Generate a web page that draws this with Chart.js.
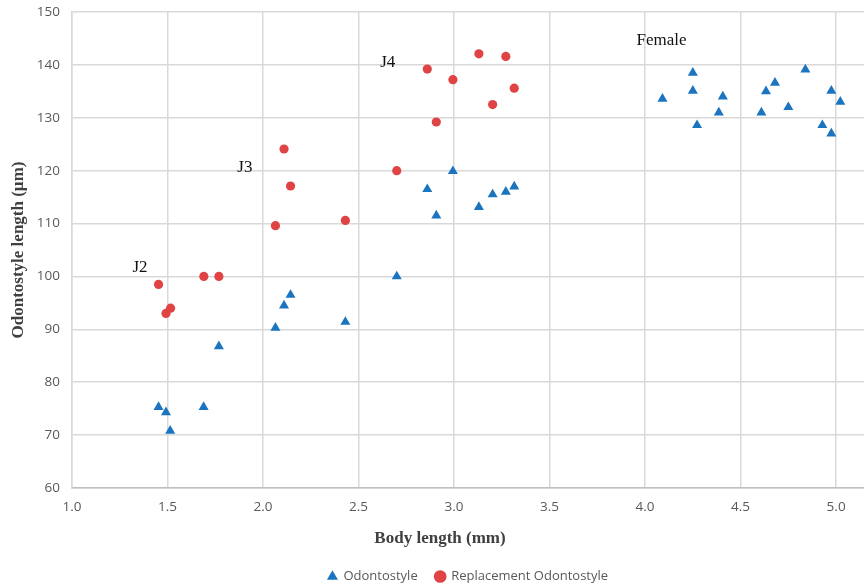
<!DOCTYPE html>
<html>
<head>
<meta charset="utf-8">
<script src="https://cdn.jsdelivr.net/npm/chart.js@4"></script>
<style>
  html, body { margin: 0; padding: 0; background: #fff; }
  #wrap { width: 864px; height: 585px; }
</style>
</head>
<body>
<div id="wrap"><canvas id="chartArea" width="864" height="585"></canvas></div>
<script>
// body length (mm) / odontostyle length (um)
var odontoX = [1.453, 1.492, 1.514, 1.689, 1.769, 2.065, 2.110, 2.144, 2.431, 2.700,
  2.860, 2.907, 2.994, 3.130, 3.202, 3.271, 3.315,
  4.091, 4.250, 4.250, 4.272, 4.386, 4.407, 4.609, 4.633, 4.680, 4.750, 4.839, 4.928, 4.975, 4.975, 5.022]
var odontoY = [75.3, 74.3, 70.8, 75.3, 86.8, 90.3, 94.5, 96.5, 91.4, 100.0,
  116.5, 111.5, 119.9, 113.1, 115.5, 116.0, 117.0,
  133.6, 138.5, 135.1, 128.6, 131.0, 134.0, 131.0, 135.0, 136.6, 132.0, 139.1, 128.6, 135.1, 127.0, 133.0]

var replX = [1.453, 1.492, 1.516, 1.690, 1.769, 2.065, 2.110, 2.144, 2.431, 2.700,
  2.860, 2.907, 2.994, 3.130, 3.202, 3.271, 3.315]
var replY = [98.5, 93.0, 94.0, 100.0, 100.0, 109.6, 124.1, 117.1, 110.6, 120.0,
  139.2, 129.2, 137.2, 142.1, 132.5, 141.6, 135.6]

var stageLabels = ['J2', 'J3', 'J4', 'Female']
var stageX = [1.356, 1.905, 2.653, 4.086]
var stageY = [101.6, 120.6, 140.4, 144.6]

var blue = '#1b74bf'
var red = '#df4343'

function toPoints(xs, ys){
  var pts = []
  for(var i = 0; i < xs.length; i++){
    pts.push({x: xs[i], y: ys[i]})
  }
  return pts
}

// stage labels and x title drawn on top of the plot
var notesPlugin = {
  id: 'notes',
  afterDraw: function(chart){
    var ctx = chart.ctx
    var xs = chart.scales.x, ys = chart.scales.y
    ctx.save()
    ctx.fillStyle = '#111'
    ctx.font = '17px "Liberation Serif"'
    ctx.textAlign = 'center'
    ctx.textBaseline = 'middle'
    for(var i = 0; i < stageLabels.length; i++){
      ctx.fillText(stageLabels[i], xs.getPixelForValue(stageX[i]), ys.getPixelForValue(stageY[i]))
    }
    ctx.fillStyle = '#404040'
    ctx.font = 'bold 17px "Liberation Serif"'
    ctx.fillText('Body length (mm)', 440, 539)
    ctx.restore()
  }
}

var ctx = document.getElementById('chartArea').getContext('2d')
var myChart = new Chart(ctx, {
  type: 'scatter',
  data: {
    datasets: [
      {
        label: 'Odontostyle',
        data: toPoints(odontoX, odontoY),
        pointStyle: 'triangle',
        pointRadius: 5.8,
        backgroundColor: blue,
        borderColor: blue,
        borderWidth: 0
      },
      {
        label: 'Replacement Odontostyle',
        data: toPoints(replX, replY),
        pointStyle: 'circle',
        pointRadius: 4.6,
        backgroundColor: red,
        borderColor: red,
        borderWidth: 0
      }
    ]
  },
  options: {
    responsive: false,
    animation: false,
    layout: { autoPadding: false, padding: { top: 12, left: 0, right: 0, bottom: -8 } },
    plugins: {
      tooltip: { enabled: false },
      legend: {
        position: 'bottom',
        fullSize: false,
        labels: {
          usePointStyle: true,
          boxWidth: 9,
          boxHeight: 9,
          padding: 18,
          color: '#595959',
          font: { family: '"Open Sans"', size: 13 }
        }
      }
    },
    scales: {
      x: {
        type: 'linear',
        min: 1.0,
        max: 5.146,
        afterBuildTicks: function(axis){
          var t = []
          for(var v = 1.0; v <= 5.0001; v += 0.5){ t.push({value: Math.round(v * 10) / 10}) }
          axis.ticks = t
        },
        afterFit: function(axis){
          axis.height = 64
          axis.paddingRight = 0
        },
        ticks: {
          padding: 11,
          color: '#595959',
          font: { family: '"Open Sans"', size: 13.5 },
          callback: function(v){ return Number(v).toFixed(1) }
        },
        grid: { color: '#d9d9d9', lineWidth: 1.5, drawTicks: false },
        border: { color: '#bfbfbf', width: 1.5 }
      },
      y: {
        min: 60,
        max: 150,
        afterFit: function(axis){
          axis.width = 72
          axis.paddingTop = 0
          axis.paddingBottom = 0
        },
        ticks: {
          stepSize: 10,
          padding: 12,
          color: '#595959',
          font: { family: '"Open Sans"', size: 13.5 }
        },
        title: {
          display: true,
          text: 'Odontostyle length (µm)',
          color: '#404040',
          padding: { top: 8, bottom: 0 },
          font: { family: '"Liberation Serif"', size: 17, weight: 'bold' }
        },
        grid: { color: '#d9d9d9', lineWidth: 1.5, drawTicks: false },
        border: { color: '#d9d9d9', width: 1.5 }
      }
    }
  },
  plugins: [notesPlugin]
})
</script>
</body>
</html>
